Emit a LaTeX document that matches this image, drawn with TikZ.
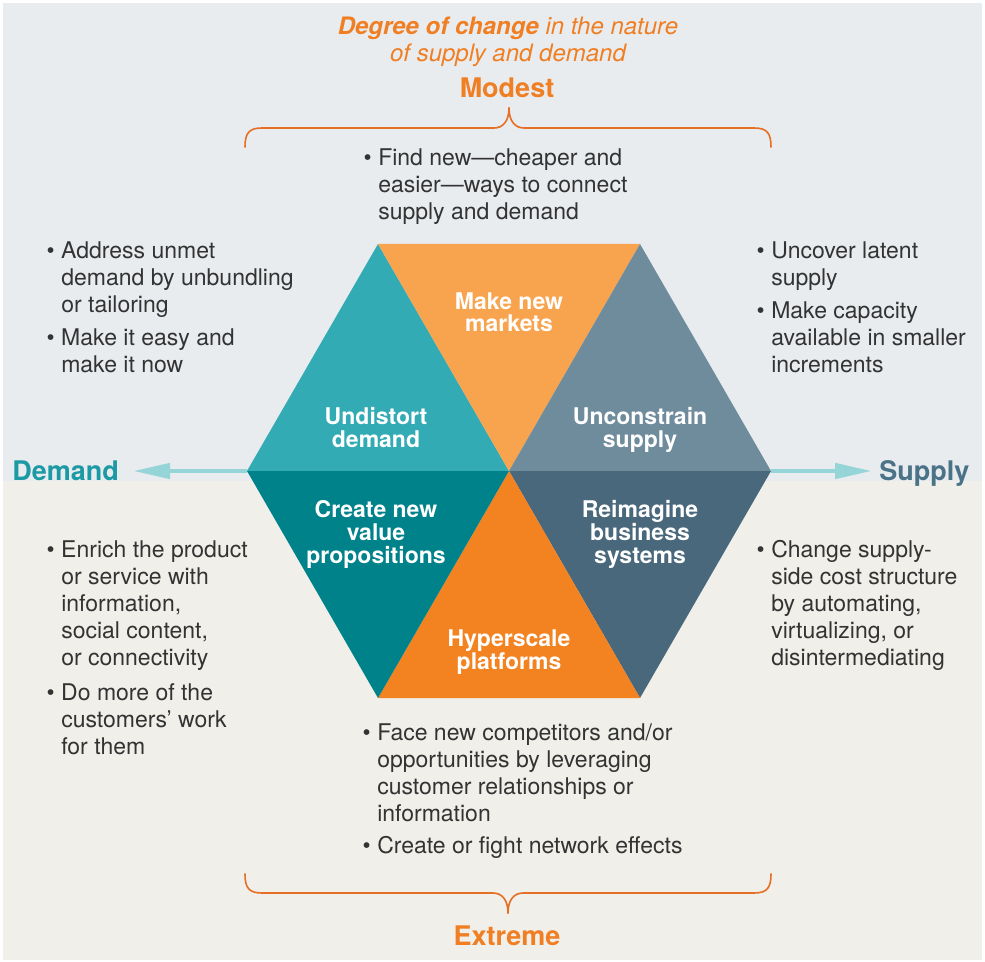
\documentclass[tikz,border=0pt]{standalone}
\usepackage{fontspec}
\setmainfont{TeX Gyre Heros}
\usepackage{tikz}
\usetikzlibrary{arrows.meta,positioning,calc}

\definecolor{topbg}{HTML}{E9ECEF}
\definecolor{botbg}{HTML}{F0EFE9}
\definecolor{bodygray}{HTML}{333333}
\definecolor{orangetxt}{HTML}{F07E22}
\definecolor{bracecol}{HTML}{E56F25}
\definecolor{arrowcol}{HTML}{95D5D8}
\definecolor{demandcol}{HTML}{1B9AA5}
\definecolor{supplycol}{HTML}{4A7388}
\definecolor{tealA}{HTML}{33ABB5}
\definecolor{tealB}{HTML}{00828B}
\definecolor{orangeA}{HTML}{F8A44F}
\definecolor{orangeB}{HTML}{F38220}
\definecolor{slateA}{HTML}{6F8C9C}
\definecolor{slateB}{HTML}{4A687C}

\tikzset{
  bullettext/.style={anchor=base west, inner sep=0pt, align=left, text=bodygray,
    font=\fontsize{17.25pt}{20.25pt}\selectfont},
  hexlabel/.style={anchor=base, inner sep=0pt, align=center, text=white,
    font=\bfseries\fontsize{17.25pt}{17pt}\selectfont},
  heading/.style={anchor=base, inner sep=0pt, font=\bfseries\fontsize{20.25pt}{24pt}\selectfont},
  brace/.style={draw=bracecol, line width=1.2pt, line cap=round},
  arrowline/.style={draw=arrowcol, line width=3.4pt, -{Triangle[length=27.75pt,width=11.25pt]}}
}
\newcommand{\bul}{\llap{\textbullet\hspace{5pt}}}

\begin{document}
\begin{tikzpicture}[x=0.75pt, y=-0.75pt]
  \useasboundingbox (0,0) rectangle (985,962);
  \fill[topbg] (3,3) rectangle (982,481);
  \fill[botbg] (3,481) rectangle (982,960);

  % hexagon corners
  \coordinate (O) at (509,471);
  \coordinate (L) at (247,471);
  \coordinate (R) at (771,471);
  \coordinate (TL) at (378,244);
  \coordinate (TR) at (640,244);
  \coordinate (BL) at (378,698);
  \coordinate (BR) at (640,698);
  \coordinate (DA) at (133,471);
  \coordinate (SA) at (872,471);

  \draw[arrowline] (L) -- (DA);
  \draw[arrowline] (R) -- (SA);

  \fill[tealA] (O) -- (L) -- (TL) -- cycle;
  \fill[orangeA] (O) -- (TL) -- (TR) -- cycle;
  \fill[slateA] (O) -- (TR) -- (R) -- cycle;
  \fill[slateB] (O) -- (R) -- (BR) -- cycle;
  \fill[orangeB] (O) -- (BR) -- (BL) -- cycle;
  \fill[tealB] (O) -- (BL) -- (L) -- cycle;

  % labels sit on their last baseline
  \node (MN) [hexlabel] at (509,332) {Make new\\markets};
  \node (UD) [hexlabel] at (376,447) {Undistort\\demand};
  \node (US) [hexlabel] at (640,447) {Unconstrain\\supply};
  \node (CV) [hexlabel] at (376,563) {Create new\\value\\propositions};
  \node (RB) [hexlabel] at (640,563) {Reimagine\\business\\systems};
  \node (HP) [hexlabel] at (509,669) {Hyperscale\\platforms};

  \node (D) [heading, anchor=base west, text=demandcol] at (12,480) {Demand};
  \node (S) [heading, anchor=base west, text=supplycol] at (879,480) {Supply};

  \node (T) [anchor=base, inner sep=0pt, align=center, text=orangetxt,
    font=\itshape\fontsize{18pt}{20.25pt}\selectfont] at (508,62)
    {\textbf{Degree of change} in the nature\\of supply and demand};
  \node (M) [heading, text=orangetxt] at (507,98) {Modest};
  \node (E) [heading, text=orangetxt] at (507,945) {Extreme};

  % braces
  \draw[brace] (245,147) .. controls (245,133) and (249,128) .. (262,128) -- (494,128)
    .. controls (503,128) and (509,121) .. (509,108);
  \draw[brace] (771,147) .. controls (771,133) and (767,128) .. (754,128) -- (524,128)
    .. controls (515,128) and (509,121) .. (509,108);
  \draw[brace] (245,874) .. controls (245,888) and (249,893) .. (262,893) -- (493,893)
    .. controls (502,893) and (508,900) .. (508,913);
  \draw[brace] (771,874) .. controls (771,888) and (767,893) .. (754,893) -- (523,893)
    .. controls (514,893) and (508,900) .. (508,913);

  % bullet texts
  \node (FN) [bullettext] at (378,220) {\bul Find new---cheaper and\\easier---ways to connect\\supply and demand};
  \node (AU) [bullettext] at (61,313) {\bul Address unmet\\demand by unbundling\\or tailoring};
  \node (ME) [bullettext] at (61,373) {\bul Make it easy and\\make it now};
  \node (UL) [bullettext] at (771,286) {\bul Uncover latent\\supply};
  \node (MC) [bullettext] at (771,373) {\bul Make capacity\\available in smaller\\increments};
  \node (ER) [bullettext] at (61,665) {\bul Enrich the product\\or service with\\information,\\social content,\\or connectivity};
  \node (DM) [bullettext] at (61,754) {\bul Do more of the\\customers’ work\\for them};
  \node (CS) [bullettext] at (771,665) {\bul Change supply-\\side cost structure\\by automating,\\virtualizing, or\\disintermediating};
  \node (FC) [bullettext] at (377,821) {\bul Face new competitors and/or\\opportunities by leveraging\\customer relationships or\\information};
  \node (CF) [bullettext] at (377,853) {\bul Create or fight network effects};
\end{tikzpicture}
\end{document}
